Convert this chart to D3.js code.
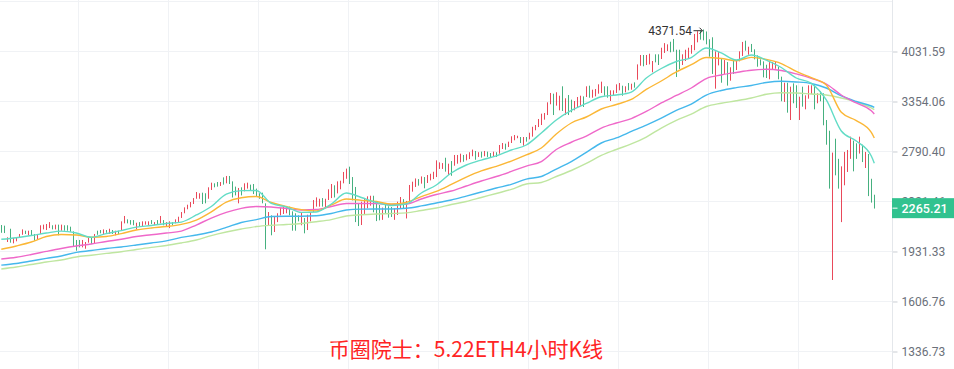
<!DOCTYPE html>
<html><head><meta charset="utf-8">
<script src="https://cdn.jsdelivr.net/npm/d3@7"></script>
<style>html,body{margin:0;padding:0;background:#fff;overflow:hidden}</style>
</head><body>
<svg id="chart" width="954" height="369"></svg>
<script>
// ---- data (ETH 4h candles, log price axis) ----
const opens=[2121,2108,2005,2095,1995,2010,2038,2058,2082,2054,
2086,2056,2024,2064,2100,2095,2110,2122,2100,2128,
2090,2123,2122,2112,2078,2010,2010,1966,1955,2000,
2030,1995,2080,2086,2064,2087,2064,2086,2054,2081,
2090,2150,2170,2164,2164,2100,2148,2125,2136,2131,
2164,2131,2164,2146,2164,2125,2110,2148,2146,2156,
2190,2228,2262,2277,2305,2350,2352,2392,2388,2352,
2428,2478,2490,2462,2532,2488,2545,2495,2446,2312,
2440,2416,2440,2465,2470,2428,2388,2392,2300,2133,
2200,2080,2158,2212,2222,2228,2272,2234,2218,2200,
2133,2180,2096,2163,2239,2284,2284,2346,2272,2340,
2357,2458,2398,2434,2488,2530,2632,2535,2444,2304,
2135,2214,2270,2292,2366,2320,2286,2176,2304,2276,
2270,2176,2214,2270,2337,2187,2326,2413,2455,2516,
2485,2535,2491,2515,2527,2546,2623,2623,2720,2565,
2688,2654,2674,2687,2749,2707,2720,2748,2790,2741,
2783,2748,2783,2770,2741,2777,2774,2822,2866,2843,
2885,2914,2934,2937,2857,2937,2924,2953,3023,3059,
3082,3143,3197,3326,3446,3309,3253,3540,3197,3429,
3371,3253,3285,3309,3412,3416,3549,3407,3424,3458,
3467,3541,3541,3366,3441,3467,3501,3549,3475,3584,
3509,3593,3640,3832,3974,3842,3851,3741,3984,3984,
3928,4016,4045,4173,4216,4052,4052,3842,3899,3928,
4005,4056,4176,4340,4250,4330,4210,4240,3523,3837,
3920,3718,3872,3627,3901,3772,3894,3972,4189,3990,
4139,4058,3969,3911,3882,3834,3646,3782,3790,3806,
3669,3355,3588,3139,3580,3554,3139,3536,3265,3395,
3454,3554,3338,3477,3451,3127,3006,1745,2919,2710,
2158,2470,2594,2722,2898,2870,2775,2855,2632,2759,
2518,2374];
const highs=[2129,2124,2035,2100,2030,2035,2060,2095,2085,2085,
2090,2060,2060,2127,2132,2137,2152,2127,2132,2132,
2132,2127,2127,2116,2080,2015,2015,2015,2000,2030,
2035,2060,2085,2090,2095,2090,2100,2090,2085,2085,
2158,2201,2174,2168,2168,2147,2152,2158,2158,2158,
2168,2152,2168,2201,2168,2152,2158,2152,2174,2195,
2233,2272,2294,2317,2351,2404,2393,2398,2393,2446,
2488,2482,2494,2494,2537,2550,2550,2500,2452,2440,
2446,2482,2488,2470,2476,2434,2393,2398,2306,2233,
2206,2195,2223,2267,2284,2278,2278,2239,2223,2206,
2228,2185,2211,2233,2334,2357,2345,2351,2345,2428,
2476,2464,2500,2506,2588,2620,2639,2540,2449,2309,
2320,2342,2366,2371,2371,2326,2292,2270,2309,2281,
2275,2264,2320,2360,2342,2326,2467,2497,2527,2521,
2546,2540,2559,2571,2590,2701,2681,2674,2727,2668,
2694,2755,2755,2768,2755,2762,2783,2810,2796,2783,
2789,2796,2789,2775,2789,2783,2858,2879,2872,2893,
2951,2965,2957,2943,2943,2943,2990,3056,3076,3145,
3207,3215,3344,3461,3452,3470,3426,3547,3394,3435,
3377,3360,3410,3426,3418,3547,3555,3503,3512,3573,
3608,3547,3547,3495,3495,3573,3590,3555,3547,3590,
3581,3599,3845,3980,3980,3980,3999,3893,3990,3990,
4088,4158,4139,4179,4222,4058,4058,3990,4058,4088,
4129,4300,4345,4355,4371.54,4340,4217,4248,4034,4024,
3926,3907,3878,3804,3907,3907,4034,4176,4195,4103,
4145,4064,3975,3917,3888,3840,3878,3878,3878,3812,
3675,3594,3594,3542,3586,3560,3414,3542,3431,3560,
3560,3560,3457,3483,3457,3133,3012,2779,2925,2716,
2642,2786,2806,2947,2904,2876,2947,2861,2786,2765,
2524,2380];
const lows=[2069,2067,2000,1995,1990,2005,2035,2054,2060,2050,
2050,2010,2020,2060,2095,2090,2105,2095,2095,2050,
2085,2085,2085,2077,1966,1937,1961,1961,1951,1995,
1985,1990,2054,2065,2060,2069,2060,2060,2050,2060,
2085,2142,2142,2132,2127,2095,2116,2121,2132,2127,
2137,2127,2137,2142,2127,2121,2105,2127,2142,2152,
2185,2223,2256,2272,2300,2345,2345,2300,2306,2345,
2422,2446,2452,2458,2470,2482,2476,2356,2374,2306,
2374,2410,2434,2416,2386,2362,2345,2306,1947,2127,
2050,2075,2152,2206,2217,2223,2206,2085,2085,2158,
2127,2065,2090,2158,2233,2278,2278,2278,2267,2334,
2351,2356,2392,2428,2482,2524,2476,2331,2152,2121,
2129,2209,2264,2286,2231,2160,2166,2170,2220,2187,
2193,2170,2209,2264,2264,2181,2320,2407,2449,2461,
2479,2437,2485,2509,2521,2540,2617,2617,2591,2559,
2552,2648,2668,2681,2687,2701,2714,2742,2707,2735,
2728,2742,2735,2728,2735,2735,2768,2816,2809,2837,
2879,2908,2930,2879,2851,2893,2918,2947,3017,3053,
3076,3137,3191,3320,3191,3303,3247,3239,3191,3191,
3223,3247,3279,3303,3287,3410,3401,3401,3418,3452,
3461,3426,3401,3360,3435,3461,3495,3426,3469,3495,
3503,3529,3634,3826,3818,3836,3845,3735,3874,3836,
3922,4010,4039,4020,4029,3671,3780,3836,3893,3922,
3999,4050,4170,4211,4200,4139,3955,3712,3516,3831,
3594,3712,3556,3621,3712,3766,3888,3966,4044,3984,
4024,3917,3812,3831,3666,3657,3640,3776,3784,3640,
3357,3349,3219,3133,3332,3275,3133,3291,3259,3389,
3448,3259,3332,3357,3073,2861,2434,1739,2556,2434,
2152,2464,2588,2716,2594,2716,2769,2684,2626,2368,
2312,2262];
const closes=[2080,2074,2030,2002,2025,2030,2056,2090,2063,2080,
2054,2014,2056,2122,2128,2132,2147,2100,2128,2055,
2127,2090,2089,2082,1972,1942,1966,2010,1995,2025,
1990,2055,2058,2068,2090,2072,2095,2064,2080,2064,
2152,2195,2146,2136,2131,2142,2120,2153,2154,2154,
2141,2148,2141,2196,2131,2148,2153,2131,2170,2190,
2228,2267,2290,2312,2346,2398,2388,2306,2312,2440,
2482,2450,2456,2490,2474,2545,2482,2362,2380,2434,
2380,2476,2482,2421,2392,2367,2350,2312,2050,2226,
2056,2190,2218,2262,2278,2272,2212,2090,2090,2163,
2222,2070,2206,2228,2328,2351,2340,2284,2340,2422,
2470,2362,2494,2500,2582,2614,2482,2337,2158,2127,
2314,2337,2360,2366,2237,2166,2172,2264,2226,2192,
2198,2258,2315,2355,2270,2320,2461,2491,2521,2466,
2540,2443,2553,2565,2584,2695,2675,2668,2597,2662,
2558,2749,2749,2762,2693,2756,2777,2804,2713,2777,
2734,2790,2741,2734,2783,2741,2852,2873,2815,2887,
2945,2959,2953,2885,2937,2899,2984,3050,3070,3139,
3201,3209,3338,3455,3197,3464,3420,3245,3388,3197,
3229,3354,3404,3420,3293,3541,3407,3497,3506,3567,
3602,3432,3407,3489,3489,3567,3584,3432,3541,3501,
3575,3535,3839,3974,3824,3974,3993,3887,3880,3842,
4082,4152,4133,4026,4035,3677,3786,3984,4052,4082,
4123,4290,4335,4217,4210,4145,3962,3720,4027,4018,
3600,3901,3562,3798,3718,3901,4028,4170,4050,4097,
4030,3923,3818,3837,3672,3663,3872,3872,3872,3646,
3363,3588,3225,3536,3338,3281,3408,3297,3425,3554,
3554,3265,3451,3363,3079,2867,2440,2773,2562,2440,
2636,2780,2800,2941,2600,2722,2941,2690,2780,2374,
2318,2265.21];

// moving averages, read every 5th candle (plus the last one)
const maIndex=[0,5,10,15,20,25,30,35,40,45,50,55,60,65,70,75,80,85,90,95,100,105,110,115,120,125,130,135,140,145,150,155,160,165,170,175,180,185,190,195,200,205,210,215,220,225,230,235,240,245,250,255,260,265,270,275,280,285,290,291];
const maTeal=[2020,2032,2048,2067,2082,2067,2035,2063,2086,2113,2125,2141,2152,2209,2279,2386,2416,2418,2305,2275,2230,2234,2300,2395,2356,2313,2288,2300,2395,2467,2578,2655,2704,2745,2806,2858,2987,3133,3245,3330,3413,3435,3473,3657,3787,3886,3943,4084,4010,3907,3980,3907,3801,3657,3586,3373,3009,2900,2745,2672];
const maOrange=[1947,1971,2000,2041,2056,2052,2035,2041,2063,2090,2106,2117,2134,2168,2234,2317,2354,2364,2313,2279,2253,2243,2292,2343,2331,2321,2300,2313,2364,2409,2472,2540,2599,2642,2694,2755,2827,2976,3099,3168,3263,3317,3379,3506,3617,3739,3840,3943,3929,3897,3946,3917,3857,3746,3661,3564,3223,3127,2993,2933];
const maPink=[1879,1891,1910,1932,1953,1971,1985,2004,2020,2041,2054,2067,2082,2129,2184,2230,2263,2279,2275,2263,2250,2254,2279,2305,2305,2305,2296,2300,2343,2382,2413,2458,2503,2545,2593,2645,2689,2811,2887,2954,3042,3099,3150,3233,3336,3429,3525,3650,3698,3732,3762,3776,3759,3712,3653,3577,3435,3336,3241,3203];
const maBlue=[1837,1848,1865,1883,1900,1925,1938,1953,1964,1978,1993,2008,2034,2052,2075,2110,2149,2172,2197,2199,2199,2203,2221,2250,2257,2258,2258,2264,2284,2309,2334,2368,2404,2440,2472,2521,2545,2616,2689,2781,2879,2933,3004,3076,3156,3247,3323,3435,3493,3529,3557,3597,3613,3604,3584,3525,3423,3354,3299,3283];
const maLime=[1811,1824,1841,1858,1872,1893,1905,1918,1930,1946,1961,1974,1993,2015,2048,2075,2098,2117,2127,2133,2141,2155,2172,2201,2211,2217,2221,2226,2246,2267,2296,2321,2356,2391,2427,2476,2490,2545,2602,2670,2750,2811,2869,2943,3042,3130,3203,3293,3333,3363,3398,3445,3464,3461,3448,3435,3398,3348,3275,3256];

const yTickValues=[4031.59,3354.06,2790.40,2321.46,1931.33,1606.76,1336.73];
const yGridValues=[4846.0,4031.59,3354.06,2790.40,2321.46,1931.33,1606.76,1336.73];
const dayGridIndex=[25.7,55.7,85.7,115.7,145.7,175.7,205.7,235.7,265.7];
const maxPrice=4371.54;
const lastPrice=2265.21;
const titleText="币圈院士：5.22ETH4小时K线";

// ---- drawing ----
const W=954,H=369,axisX=892.5;
const svg=d3.select("#chart");
const x=d3.scaleLinear().domain([0,291]).range([1.3,874.3]);
const y=d3.scaleLog().domain([1336.73,4031.59]).range([351.5,51.5]);
const px=i=>Math.floor(x(i))+0.5;

const UP="#e9495a", DOWN="#46b07f";

// grid
const g=svg.append("g");
g.selectAll("line.h").data(yGridValues).join("line")
 .attr("x1",0).attr("x2",axisX).attr("y1",d=>Math.round(y(d)-0.5)+0.5).attr("y2",d=>Math.round(y(d)-0.5)+0.5)
 .attr("stroke","#f0f2f5").attr("stroke-width",1);
g.selectAll("line.v").data(dayGridIndex).join("line")
 .attr("x1",d=>px(d)).attr("x2",d=>px(d)).attr("y1",0).attr("y2",H)
 .attr("stroke","#f0f2f5").attr("stroke-width",1);

// candles
const idx=d3.range(opens.length);
const cg=svg.append("g");
cg.selectAll("line").data(idx).join("line")
 .attr("x1",i=>px(i)).attr("x2",i=>px(i))
 .attr("y1",i=>y(highs[i])).attr("y2",i=>y(lows[i]))
 .attr("stroke",i=>closes[i]>=opens[i]?UP:DOWN).attr("stroke-width",1);

// MAs
const line=d3.line().x(d=>x(d[0])).y(d=>y(d[1])).curve(d3.curveMonotoneX);
const mas=[[maLime,"#bfe6a0"],[maBlue,"#45b8ec"],[maPink,"#ef68c9"],[maOrange,"#fbb736"],[maTeal,"#62dcc6"]];
mas.forEach(([vals,col])=>{
  svg.append("path").attr("d",line(maIndex.map((i,k)=>[i,vals[k]])))
   .attr("fill","none").attr("stroke",col).attr("stroke-width",1.4);
});

// right axis
const axis=d3.axisRight(y).tickValues(yTickValues).tickSize(5).tickPadding(4).tickFormat(d3.format(".2f"));
const ag=svg.append("g").attr("transform",`translate(${axisX},0)`).call(axis);
ag.select(".domain").remove();
ag.selectAll(".tick line").attr("stroke","#c9cdd3");
ag.selectAll(".tick text").attr("fill","#6b707a").style("font-family","Roboto, 'Noto Sans', sans-serif").style("font-size","12px");
svg.append("line").attr("x1",axisX).attr("x2",axisX).attr("y1",0).attr("y2",H).attr("stroke","#e4e7eb");

// last price label
const ly=y(lastPrice);
svg.append("rect").attr("x",axisX-0.5).attr("y",ly-10).attr("width",W-axisX+0.5).attr("height",20).attr("fill","#31c28f");
svg.append("line").attr("x1",axisX).attr("x2",axisX+5).attr("y1",ly).attr("y2",ly).attr("stroke","#fff");
svg.append("text").attr("x",axisX+9).attr("y",ly).attr("dy","0.35em").attr("fill","#fff")
 .style("font-family","Roboto, 'Noto Sans', sans-serif").style("font-size","12.5px").style("font-weight","500")
 .text(d3.format(".2f")(lastPrice));

// max label
const mi=highs.indexOf(maxPrice);
const mx=px(mi), my=y(maxPrice)+1.2;
svg.append("text").attr("x",mx-11.5).attr("y",my).attr("dy","0.35em").attr("text-anchor","end")
 .attr("fill","#333").style("font-family","Roboto, 'Noto Sans', sans-serif").style("font-size","12px")
 .text(d3.format(".2f")(maxPrice));
svg.append("line").attr("x1",mx-10).attr("x2",mx-1).attr("y1",my).attr("y2",my).attr("stroke","#333").attr("stroke-width",1);
svg.append("path").attr("d",`M${mx-4},${my-3}L${mx-1},${my}L${mx-4},${my+3}`).attr("fill","none").attr("stroke","#333").attr("stroke-width",1);

// title
svg.append("text").attr("x",466).attr("y",357).attr("text-anchor","middle")
 .attr("fill","#ff2424").style("font-family","'Noto Sans CJK SC', 'Microsoft YaHei', sans-serif").style("font-size","21px")
 .text(titleText);
</script>
</body></html>
